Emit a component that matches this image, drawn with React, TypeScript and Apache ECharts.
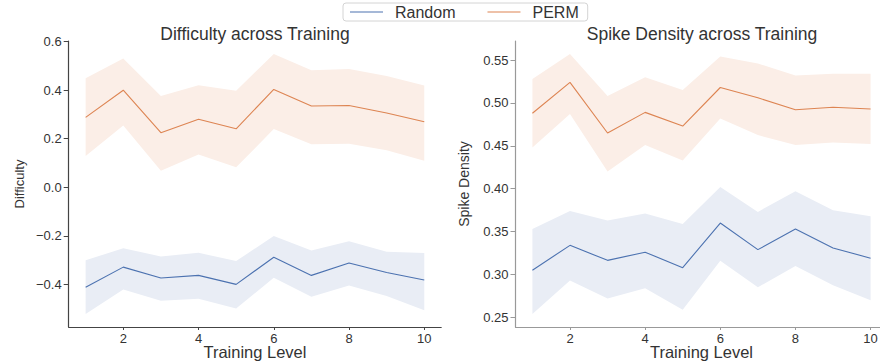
import React, { useEffect, useRef } from "react";
import * as echarts from "echarts";

const levels = [1, 2, 3, 4, 5, 6, 7, 8, 9, 10];

// Difficulty
const diffRandomMean = [-0.412, -0.329, -0.374, -0.363, -0.4, -0.288, -0.363, -0.312, -0.351, -0.382];
const diffRandomUpper = [-0.301, -0.251, -0.285, -0.27, -0.304, -0.201, -0.26, -0.222, -0.266, -0.271];
const diffRandomLower = [-0.522, -0.421, -0.467, -0.459, -0.499, -0.373, -0.451, -0.405, -0.448, -0.507];
const diffPermMean = [0.288, 0.4, 0.225, 0.28, 0.241, 0.403, 0.335, 0.337, 0.306, 0.27];
const diffPermUpper = [0.449, 0.531, 0.376, 0.42, 0.398, 0.549, 0.482, 0.487, 0.458, 0.419];
const diffPermLower = [0.129, 0.254, 0.068, 0.135, 0.082, 0.24, 0.177, 0.179, 0.153, 0.109];

// Spike density
const spikeRandomMean = [0.305, 0.334, 0.3165, 0.326, 0.308, 0.36, 0.329, 0.353, 0.331, 0.319];
const spikeRandomUpper = [0.353, 0.374, 0.363, 0.371, 0.359, 0.402, 0.373, 0.397, 0.375, 0.368];
const spikeRandomLower = [0.254, 0.293, 0.272, 0.284, 0.259, 0.316, 0.285, 0.31, 0.2875, 0.27];
const spikePermMean = [0.488, 0.524, 0.465, 0.489, 0.473, 0.518, 0.506, 0.492, 0.495, 0.493];
const spikePermUpper = [0.528, 0.557, 0.508, 0.53, 0.515, 0.554, 0.546, 0.532, 0.534, 0.534];
const spikePermLower = [0.448, 0.487, 0.42, 0.451, 0.433, 0.482, 0.4625, 0.451, 0.454, 0.452];

const xTicks = [2, 4, 6, 8, 10];
const diffTicks = [-0.4, -0.2, 0.0, 0.2, 0.4, 0.6];
const spikeTicks = [0.25, 0.3, 0.35, 0.4, 0.45, 0.5, 0.55];

const BLUE = "#4c72b0";
const ORANGE = "#dd8452";
const BLUE_BAND = "#e9edf5";
const ORANGE_BAND = "#fbeee7";
const FONT = "Liberation Sans, Arial, sans-serif";

function pairs(ys: number[]) {
  return levels.map((x, i) => [x, ys[i]]);
}

function bandSeries(up: number[], lo: number[], color: string, axis: number) {
  return {
    type: "custom",
    xAxisIndex: axis,
    yAxisIndex: axis,
    silent: true,
    z: 1,
    data: levels.map((x, i) => [x, lo[i], up[i]]),
    encode: { x: 0, y: [1, 2] },
    renderItem: (params: any, api: any) => {
      if (params.dataIndex !== 0) return null;
      const top = levels.map((x, i) => api.coord([x, up[i]]));
      const bottom = levels.map((x, i) => api.coord([x, lo[i]])).reverse();
      return {
        type: "polygon",
        shape: { points: top.concat(bottom) },
        style: { fill: color, stroke: "none" },
      };
    },
  };
}

function meanSeries(name: string, ys: number[], color: string, axis: number) {
  return {
    name,
    type: "line",
    xAxisIndex: axis,
    yAxisIndex: axis,
    data: pairs(ys),
    showSymbol: false,
    symbol: "none",
    color,
    lineStyle: { color, width: 1.1 },
    z: 3,
  };
}

function xAxis(grid: number, axisColor: string) {
  return {
    type: "value",
    gridIndex: grid,
    min: 0.55,
    max: 10.45,
    name: "Training Level",
    nameLocation: "middle",
    nameGap: 16.5,
    nameMoveOverlap: false,
    nameTextStyle: { fontFamily: FONT, fontSize: 16.5, lineHeight: 16, color: "#333" },
    axisLine: { show: true, onZero: false, lineStyle: { color: axisColor, width: 1.2 } },
    axisTick: { show: true, length: 3, customValues: xTicks, lineStyle: { color: axisColor } },
    axisLabel: {
      customValues: xTicks,
      margin: 5,
      fontFamily: FONT,
      fontSize: 13,
      lineHeight: 12,
      color: "#333",
      formatter: (v: number) => String(v),
    },
    splitLine: { show: false },
  };
}

export default function App() {
  const ref = useRef<HTMLDivElement>(null);
  useEffect(() => {
    if (!ref.current) return;
    const chart = echarts.init(ref.current, undefined, { renderer: "svg" });
    const option: any = {
      animation: false,
      backgroundColor: "#ffffff",
      legend: {
        data: [
          { name: "Random", itemStyle: { color: BLUE } },
          { name: "PERM", itemStyle: { color: ORANGE } },
        ],
        left: 343,
        top: 3,
        orient: "horizontal",
        icon: "rect",
        itemWidth: 33,
        itemHeight: 1,
        itemGap: 32,
        padding: [1, 9, 1, 7],
        borderColor: "#d4d4d4",
        borderWidth: 1,
        borderRadius: 3,
        textStyle: { fontFamily: FONT, fontSize: 16, color: "#333", padding: [0, 0, 0, 7] },
        selectedMode: false,
      },
      title: [
        {
          text: "Difficulty across Training",
          left: 255,
          top: 24.5,
          textAlign: "center",
          padding: 0,
          textStyle: { fontFamily: FONT, fontSize: 17.5, fontWeight: "normal", color: "#333" },
        },
        {
          text: "Spike Density across Training",
          left: 702,
          top: 24.5,
          textAlign: "center",
          padding: 0,
          textStyle: { fontFamily: FONT, fontSize: 17.5, fontWeight: "normal", color: "#333" },
        },
      ],
      grid: [
        { left: 68.7, top: 41, width: 372.5, height: 286, containLabel: false, outerBoundsMode: "none" },
        { left: 515.5, top: 41, width: 372, height: 286, containLabel: false, outerBoundsMode: "none" },
      ],
      xAxis: [xAxis(0, "#444"), xAxis(1, "#999")],
      yAxis: [
        {
          type: "value",
          gridIndex: 0,
          min: -0.5756,
          max: 0.6026,
          name: "Difficulty",
          nameLocation: "middle",
          nameGap: 43,
          nameMoveOverlap: false,
          nameTextStyle: { fontFamily: FONT, fontSize: 13, color: "#333" },
          axisLine: { show: true, onZero: false, lineStyle: { color: "#444", width: 1.2 } },
          axisTick: { show: true, length: 5, customValues: diffTicks, lineStyle: { color: "#444" } },
          axisLabel: {
            customValues: diffTicks,
            margin: 7,
            fontFamily: FONT,
            fontSize: 13,
            color: "#333",
            formatter: (v: number) => v.toFixed(1).replace("-", "\u2212"),
          },
          splitLine: { show: false },
        },
        {
          type: "value",
          gridIndex: 1,
          min: 0.2388,
          max: 0.5722,
          name: "Spike Density",
          nameLocation: "middle",
          nameGap: 44.5,
          nameMoveOverlap: false,
          nameTextStyle: { fontFamily: FONT, fontSize: 14, color: "#333" },
          axisLine: { show: true, onZero: false, lineStyle: { color: "#999", width: 1.2 } },
          axisTick: { show: true, length: 5, customValues: spikeTicks, lineStyle: { color: "#999" } },
          axisLabel: {
            customValues: spikeTicks,
            margin: 7,
            fontFamily: FONT,
            fontSize: 13,
            color: "#333",
            formatter: (v: number) => v.toFixed(2),
          },
          splitLine: { show: false },
        },
      ],
      series: [
        bandSeries(diffRandomUpper, diffRandomLower, BLUE_BAND, 0),
        bandSeries(diffPermUpper, diffPermLower, ORANGE_BAND, 0),
        bandSeries(spikeRandomUpper, spikeRandomLower, BLUE_BAND, 1),
        bandSeries(spikePermUpper, spikePermLower, ORANGE_BAND, 1),
        meanSeries("Random", diffRandomMean, BLUE, 0),
        meanSeries("PERM", diffPermMean, ORANGE, 0),
        meanSeries("Random", spikeRandomMean, BLUE, 1),
        meanSeries("PERM", spikePermMean, ORANGE, 1),
      ],
    };
    chart.setOption(option);
    return () => chart.dispose();
  }, []);
  return <div ref={ref} style={{ width: 880, height: 362, position: "absolute", left: 0, top: 0 }} />;
}
